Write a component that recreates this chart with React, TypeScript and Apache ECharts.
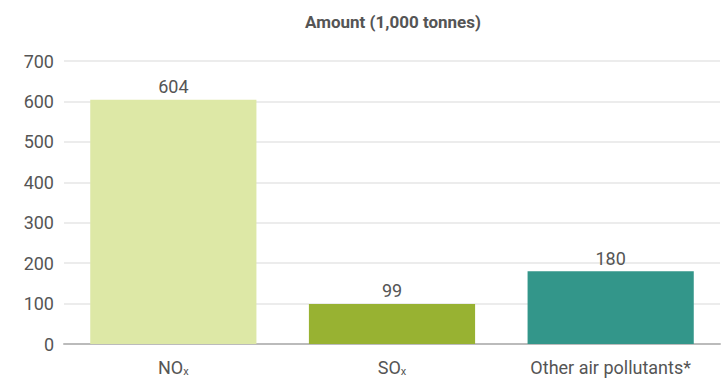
import React, { useEffect, useRef } from "react";
import * as echarts from "echarts";

const categories = ["NO{sub|x}", "SO{sub|x}", "Other air pollutants*"];
const values = [604, 99, 180];
const colors = ["#dde8a6", "#98b232", "#33968a"];
const yTicks = [0, 100, 200, 300, 400, 500, 600, 700];

const FONT = "'Roboto', sans-serif";

export default function App() {
  const ref = useRef<HTMLDivElement>(null);
  useEffect(() => {
    const chart = echarts.init(ref.current!, undefined, { renderer: "svg" });
    chart.setOption({
      animation: false,
      title: {
        text: "Amount (1,000 tonnes)",
        left: 388,
        textAlign: "center",
        top: 8,
        textStyle: { fontFamily: FONT, fontSize: 17, fontWeight: "bold", color: "#555" },
      },
      grid: { left: 64, right: 4, top: 61, bottom: 34 },
      xAxis: {
        type: "category",
        data: categories,
        axisTick: { show: false },
        axisLine: { lineStyle: { color: "#bbb", width: 2 } },
        axisLabel: {
          fontFamily: FONT,
          fontSize: 18,
          color: "#555",
          margin: 13,
          lineHeight: 20,
          rich: { sub: { fontSize: 11, lineHeight: 20, verticalAlign: "bottom", color: "#555", fontFamily: FONT } },
        },
      },
      yAxis: {
        type: "value",
        min: yTicks[0],
        max: yTicks[yTicks.length - 1],
        interval: 100,
        axisLabel: { fontFamily: FONT, fontSize: 18, color: "#555", margin: 10 },
        splitLine: { lineStyle: { color: "#e6e6e6", width: 1.5 } },
      },
      series: [
        {
          type: "bar",
          barWidth: "76%",
          data: values.map((v, i) => ({ value: v, itemStyle: { color: colors[i] } })),
          label: {
            show: true,
            position: "top",
            distance: 4,
            fontFamily: FONT,
            fontSize: 18,
            color: "#555",
          },
        },
      ],
    });
    return () => chart.dispose();
  }, []);
  return <div ref={ref} style={{ position: "absolute", left: 0, top: 0, width: 724, height: 378 }} />;
}
